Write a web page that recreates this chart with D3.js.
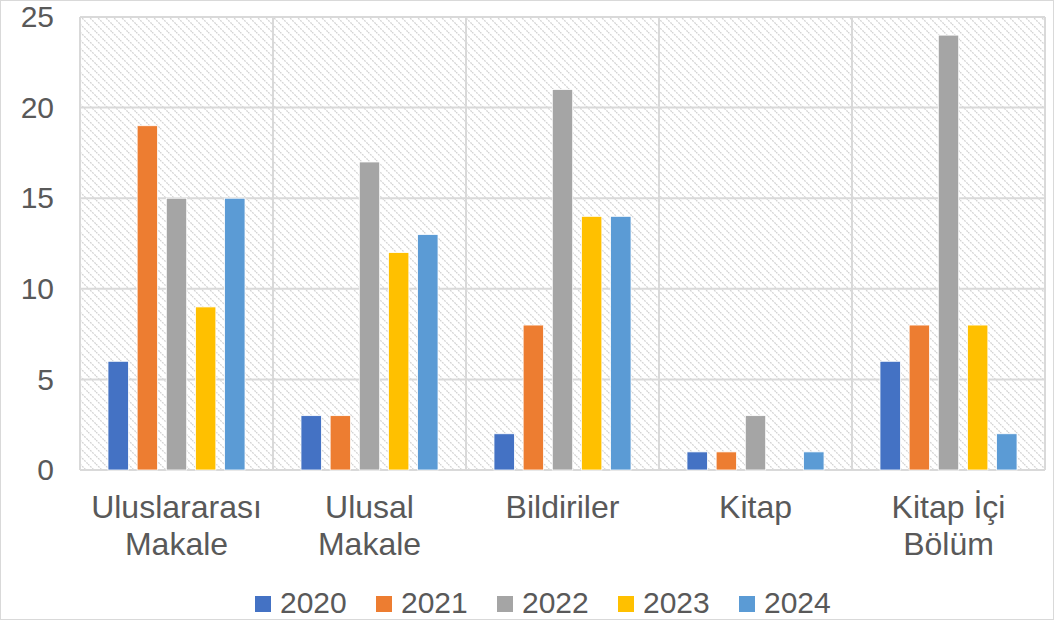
<!DOCTYPE html>
<html>
<head>
<meta charset="utf-8">
<script src="https://cdn.jsdelivr.net/npm/d3@7"></script>
<style>
  body { margin: 0; background: #fff; }
  text { font-family: "Liberation Sans", Arial, sans-serif; fill: #595959; }
</style>
</head>
<body>
<svg id="chart" width="1054" height="620"></svg>
<script>
// chart values
var categories = [["Uluslararası", "Makale"], ["Ulusal", "Makale"], ["Bildiriler"], ["Kitap"], ["Kitap İçi", "Bölüm"]];
var years = ["2020", "2021", "2022", "2023", "2024"];
var colors = ["#4472c4", "#ed7d31", "#a5a5a5", "#ffc000", "#5b9bd5"];
var values2020 = [6, 3, 2, 1, 6];
var values2021 = [19, 3, 8, 1, 8];
var values2022 = [15, 17, 21, 3, 24];
var values2023 = [9, 12, 14, 0, 8];
var values2024 = [15, 13, 14, 1, 2];
var yTicks = [0, 5, 10, 15, 20, 25];

var series = [values2020, values2021, values2022, values2023, values2024];

var svg = d3.select('#chart');
var plot = { left: 80, right: 1045, top: 17, bottom: 470 };

// outer chart border
svg.append('rect')
  .attr('x', 0.5).attr('y', 0.5)
  .attr('width', 1053).attr('height', 619)
  .attr('fill', 'none')
  .attr('stroke', '#d9d9d9');

// hatch fill for the plot area
var defs = svg.append('defs');
var pat = defs.append('pattern')
  .attr('id', 'hatch')
  .attr('patternUnits', 'userSpaceOnUse')
  .attr('width', 8).attr('height', 8);
pat.append('path')
  .attr('d', 'M-2,6 L2,10 M0,0 L8,8 M6,-2 L10,2')
  .attr('stroke', '#d4d4d4')
  .attr('stroke-width', 1.3)
  .attr('stroke-dasharray', '2,1');

var x0 = d3.scaleBand()
  .domain(d3.range(categories.length))
  .range([plot.left, plot.right])
  .padding(0);

var bw = x0.bandwidth();
var x1 = d3.scaleBand()
  .domain(years)
  .range([bw * 0.145, bw * 0.855])
  .paddingInner(0.3)
  .paddingOuter(0);

var y = d3.scaleLinear()
  .domain([0, 25])
  .range([plot.bottom, plot.top]);

svg.append('rect')
  .attr('x', plot.left).attr('y', plot.top)
  .attr('width', plot.right - plot.left)
  .attr('height', plot.bottom - plot.top)
  .attr('fill', 'url(#hatch)');

// horizontal grid
svg.append('g')
  .selectAll('line')
  .data(yTicks)
  .enter()
  .append('line')
  .attr('x1', plot.left).attr('x2', plot.right)
  .attr('y1', function(d) { return y(d); })
  .attr('y2', function(d) { return y(d); })
  .attr('stroke', '#d9d9d9')
  .attr('stroke-width', 2);

// vertical category dividers
svg.append('g')
  .selectAll('line')
  .data(d3.range(categories.length + 1))
  .enter()
  .append('line')
  .attr('x1', function(i) { return plot.left + i * bw; })
  .attr('x2', function(i) { return plot.left + i * bw; })
  .attr('y1', plot.top).attr('y2', plot.bottom)
  .attr('stroke', '#d9d9d9')
  .attr('stroke-width', 2);

// bars
var groups = svg.append('g')
  .selectAll('g')
  .data(categories)
  .enter()
  .append('g')
  .attr('transform', function(d, i) { return 'translate(' + x0(i) + ',0)'; });

groups.selectAll('rect')
  .data(function(d, i) {
    return years.map(function(yr, j) { return { year: yr, value: series[j][i], color: colors[j] }; });
  })
  .enter()
  .filter(function(d) { return d.value > 0; })
  .append('rect')
  .attr('x', function(d) { return x1(d.year); })
  .attr('width', x1.bandwidth())
  .attr('y', function(d) { return y(d.value); })
  .attr('height', function(d) { return y(0) - y(d.value); })
  .attr('fill', function(d) { return d.color; })
  .attr('stroke', '#fff')
  .attr('stroke-width', 0.8);

// y axis labels
var yAxis = d3.axisLeft(y).tickValues(yTicks).tickSize(0).tickPadding(0);
var yg = svg.append('g')
  .attr('transform', 'translate(54,0)')
  .call(yAxis);
yg.select('.domain').remove();
yg.selectAll('text')
  .attr('font-size', 30)
  .attr('font-family', '"Liberation Sans", Arial, sans-serif')
  .attr('fill', '#595959');

// category labels
var cat = svg.append('g')
  .selectAll('text')
  .data(categories)
  .enter()
  .append('text')
  .attr('x', function(d, i) { return x0(i) + bw / 2; })
  .attr('y', 518)
  .attr('text-anchor', 'middle')
  .attr('font-size', 32);
cat.selectAll('tspan')
  .data(function(d) { return d; })
  .enter()
  .append('tspan')
  .attr('x', function() { return d3.select(this.parentNode).attr('x'); })
  .attr('dy', function(d, i) { return i === 0 ? 0 : 37; })
  .text(function(d) { return d; });

// legend
var legend = svg.append('g')
  .selectAll('g')
  .data(years)
  .enter()
  .append('g')
  .attr('transform', function(d, i) { return 'translate(' + (255 + i * 121) + ',0)'; });
legend.append('rect')
  .attr('x', 0).attr('y', 596)
  .attr('width', 16).attr('height', 16)
  .attr('fill', function(d, i) { return colors[i]; });
legend.append('text')
  .attr('x', 25).attr('y', 613)
  .attr('font-size', 30)
  .text(function(d) { return d; });
</script>
</body>
</html>
